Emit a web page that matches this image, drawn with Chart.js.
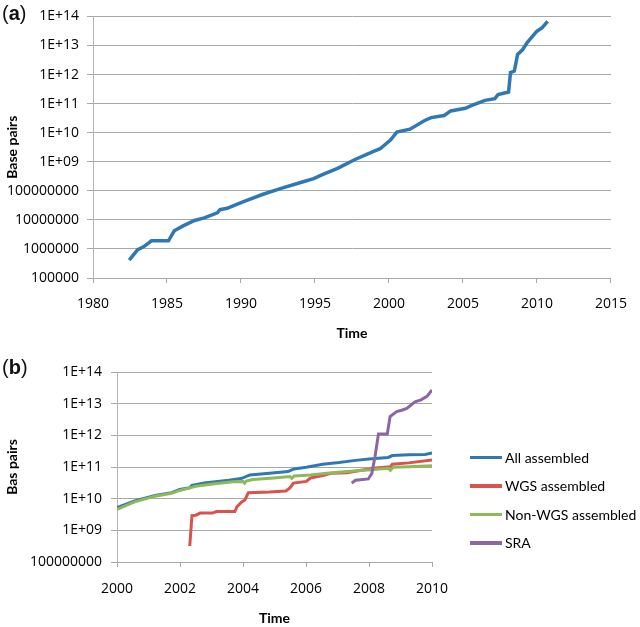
<!DOCTYPE html>
<html>
<head>
<meta charset="utf-8">
<script src="https://cdn.jsdelivr.net/npm/chart.js@4.4.1/dist/chart.umd.min.js"></script>
<style>
  html, body { margin: 0; padding: 0; background: #fff; }
  body { width: 640px; height: 627px; position: relative; overflow: hidden; font-family: Lato, sans-serif; }
  .box { position: absolute; left: 0; width: 640px; }
  .tag { position: absolute; left: 2px; font: 20px 'Liberation Sans', Arial, sans-serif; line-height: 23px; color: #111; }
  #legend { position: absolute; left: 470px; top: 443px; }
  .item { height: 28.5px; display: flex; align-items: center; font: 14px Lato, sans-serif; color: #000; }
  .item span.swatch { width: 32px; height: 3.5px; margin-right: 3px; display: inline-block; }
</style>
</head>
<body>
<div class="box" style="top:0;height:345px"><canvas id="chart-a" width="640" height="345"></canvas></div>
<div class="box" style="top:345px;height:282px"><canvas id="chart-b" width="640" height="282"></canvas></div>
<div class="tag" style="top:2px">(<b>a</b>)</div>
<div class="tag" style="top:356px">(<b>b</b>)</div>
<div id="legend"></div>
<script>
// Colors
const BLUE = '#2f78b4'
const RED = '#d9534e'
const GREEN = '#8dba56'
const PURPLE = '#8c65a7'
const GRID = '#a8a8a8'
const TEXT = '#000'

// (a) total base pairs
const yearsA = [1982.45, 1983.0, 1983.44, 1983.95, 1985.1, 1985.49, 1986.09, 1986.86, 1987.52, 1988.4, 1988.58, 1989.06,
  1990.17, 1991.49, 1992.82, 1994.14, 1994.91, 1995.46, 1996.56, 1997.67, 1998.88, 1999.4, 2000.1, 2000.53, 2001.42,
  2002.41, 2002.85, 2003.73, 2004.17, 2005.16, 2005.6, 2006.49, 2007.15, 2007.37, 2008.08, 2008.21, 2008.47, 2008.69,
  2009.02, 2009.35, 2010.0, 2010.35, 2010.72]
const basePairsA = [4.1e5, 9.3e5, 1.2e6, 1.9e6, 1.9e6, 4.2e6, 6.2e6, 9.5e6, 1.17e7, 1.74e7, 2.24e7, 2.5e7,
  4.27e7, 7.6e7, 1.26e8, 2.0e8, 2.63e8, 3.55e8, 6.0e8, 1.17e9, 2.19e9, 2.8e9, 5.6e9, 1.05e10, 1.32e10,
  2.63e10, 3.3e10, 3.9e10, 5.6e10, 6.9e10, 8.7e10, 1.29e11, 1.48e11, 2.04e11, 2.5e11, 1.17e12, 1.32e12, 4.9e12,
  7.1e12, 1.29e13, 3.1e13, 4.1e13, 6.8e13]

// (b) series
const seriesLabels = ['All assembled', 'WGS assembled', 'Non-WGS assembled', 'SRA']

const yearsAll = [2000.0, 2000.56, 2001.21, 2001.73, 2001.99, 2002.31, 2002.38, 2002.77, 2003.55, 2003.94, 2004.22,
  2004.84, 2005.43, 2005.62, 2006.01, 2006.53, 2007.05, 2007.57, 2008.09, 2008.61, 2008.74, 2009.26, 2009.78, 2010.0]
const bpAll = [5.2e9, 8.5e9, 1.26e10, 1.55e10, 1.95e10, 2.2e10, 2.63e10, 3.1e10, 3.8e10, 4.3e10, 5.6e10,
  6.3e10, 7.2e10, 8.7e10, 9.8e10, 1.23e11, 1.38e11, 1.62e11, 1.82e11, 2.0e11, 2.3e11, 2.45e11, 2.5e11, 2.8e11]

const yearsWgs = [2002.31, 2002.38, 2002.5, 2002.64, 2003.03, 2003.16, 2003.74, 2003.81, 2003.96, 2004.06, 2004.17,
  2004.84, 2005.36, 2005.49, 2005.6, 2006.01, 2006.14, 2006.53, 2006.79, 2007.31, 2007.7, 2008.22, 2008.68, 2008.74,
  2009.26, 2010.0]
const bpWgs = [3.2e8, 2.9e9, 3.0e9, 3.5e9, 3.5e9, 3.9e9, 3.9e9, 5.6e9, 7.9e9, 9.1e9, 1.55e10,
  1.62e10, 1.74e10, 2.19e10, 3.1e10, 3.5e10, 4.5e10, 5.4e10, 6.3e10, 6.6e10, 7.8e10, 9.3e10, 1.02e11, 1.23e11,
  1.35e11, 1.66e11]

const yearsNonWgs = [2000.0, 2000.56, 2001.21, 2001.73, 2001.99, 2002.31, 2002.5, 2003.03, 2003.68, 2004.0, 2004.05,
  2004.1, 2004.32, 2004.97, 2005.49, 2005.55, 2005.62, 2006.14, 2006.66, 2007.31, 2007.96, 2008.61, 2008.68, 2008.76,
  2009.26, 2010.0]
const bpNonWgs = [4.6e9, 7.9e9, 1.2e10, 1.48e10, 1.82e10, 2.19e10, 2.45e10, 2.9e10, 3.4e10, 3.5e10, 3.1e10,
  3.6e10, 4.0e10, 4.5e10, 5.0e10, 4.4e10, 5.2e10, 5.6e10, 6.3e10, 7.2e10, 8.1e10, 9.1e10, 7.9e10, 9.8e10,
  1.02e11, 1.1e11]

const yearsSra = [2007.45, 2007.57, 2007.98, 2008.09, 2008.19, 2008.3, 2008.58, 2008.67, 2008.88, 2009.06, 2009.2,
  2009.46, 2009.65, 2009.84, 2010.0]
const bpSra = [3.1e10, 3.8e10, 4.2e10, 6.3e10, 2.1e11, 1.1e12, 1.1e12, 3.9e12, 5.6e12, 6.3e12, 7.1e12,
  1.15e13, 1.32e13, 1.7e13, 2.7e13]

// Axis ticks
const xTicksA = [1980, 1985, 1990, 1995, 2000, 2005, 2010, 2015]
const yTicksA = [1e5, 1e6, 1e7, 1e8, 1e9, 1e10, 1e11, 1e12, 1e13, 1e14]
const xTicksB = [2000, 2002, 2004, 2006, 2008, 2010]
const yTicksB = [1e8, 1e9, 1e10, 1e11, 1e12, 1e13, 1e14]

const points = (xs, ys) => xs.map((x, i) => ({ x, y: ys[i] }))

// Excel style: 1E+09 and up, plain digits below
function bpLabel(v) {
  const e = Math.round(Math.log10(v))
  if (e >= 9) return '1E+' + (e < 10 ? '0' : '') + e
  return '1' + '0'.repeat(e)
}

const tickFont = { family: "'Open Sans'", size: 14 }
const titleFont = { family: 'Lato', size: 14, weight: 'bold' }

function xScale(ticks, height, labelPad, titlePad) {
  return {
    type: 'linear',
    min: ticks[0],
    max: ticks[ticks.length - 1],
    afterBuildTicks: (s) => { s.ticks = ticks.map((v) => ({ value: v })) },
    afterFit: (s) => { s.height = height },
    grid: { drawOnChartArea: false, drawTicks: true, tickLength: 5, color: GRID },
    border: { color: GRID },
    ticks: { autoSkip: false, maxRotation: 0, font: tickFont, color: TEXT, padding: labelPad, callback: (v) => String(v) },
    title: { display: true, text: 'Time', font: titleFont, color: TEXT, padding: { top: 0, bottom: titlePad } },
  }
}

function yScale(ticks, width, labelPad, title) {
  return {
    type: 'logarithmic',
    min: ticks[0],
    max: ticks[ticks.length - 1],
    afterBuildTicks: (s) => { s.ticks = ticks.map((v) => ({ value: v })) },
    afterFit: (s) => { s.width = width },
    grid: { color: GRID, tickLength: 6 },
    border: { color: '#b4b4b4' },
    ticks: { autoSkip: false, font: tickFont, color: TEXT, padding: labelPad, callback: (v) => bpLabel(v) },
    title: { display: true, text: title, font: titleFont, color: TEXT, padding: { top: 4, bottom: 0 } },
  }
}

new Chart(document.getElementById('chart-a'), {
  type: 'line',
  data: {
    datasets: [{
      data: points(yearsA, basePairsA),
      borderColor: BLUE,
      borderWidth: 3.5,
      pointRadius: 0,
      tension: 0,
    }],
  },
  options: {
    responsive: false,
    animation: false,
    layout: { padding: { top: 11, right: 18, bottom: 0, left: 0 } },
    plugins: { legend: { display: false }, tooltip: { enabled: false } },
    scales: {
      x: xScale(xTicksA, 67, 13, 3),
      y: yScale(yTicksA, 93, 8, 'Base pairs'),
    },
  },
})

const seriesB = [
  { label: seriesLabels[0], data: points(yearsAll, bpAll), color: BLUE, order: 4 },
  { label: seriesLabels[1], data: points(yearsWgs, bpWgs), color: RED, order: 3 },
  { label: seriesLabels[2], data: points(yearsNonWgs, bpNonWgs), color: GREEN, order: 2 },
  { label: seriesLabels[3], data: points(yearsSra, bpSra), color: PURPLE, order: 1 },
]

const chartB = new Chart(document.getElementById('chart-b'), {
  type: 'line',
  data: {
    datasets: seriesB.map((s) => ({
      label: s.label,
      data: s.data,
      borderColor: s.color,
      backgroundColor: s.color,
      borderWidth: 3,
      pointRadius: 0,
      tension: 0,
      order: s.order,
    })),
  },
  options: {
    responsive: false,
    animation: false,
    layout: { padding: { top: 27, right: 208, bottom: 0, left: 0 } },
    plugins: { legend: { display: false }, tooltip: { enabled: false } },
    scales: {
      x: xScale(xTicksB, 65, 14, 0),
      y: yScale(yTicksB, 117, 9, 'Bas pairs'),
    },
  },
})

// HTML legend, built from the chart's datasets
const legendEl = document.getElementById('legend')
chartB.data.datasets.forEach((ds) => {
  const row = document.createElement('div')
  row.className = 'item'
  const sw = document.createElement('span')
  sw.className = 'swatch'
  sw.style.background = ds.borderColor
  row.appendChild(sw)
  row.appendChild(document.createTextNode(ds.label))
  legendEl.appendChild(row)
})
</script>
</body>
</html>
